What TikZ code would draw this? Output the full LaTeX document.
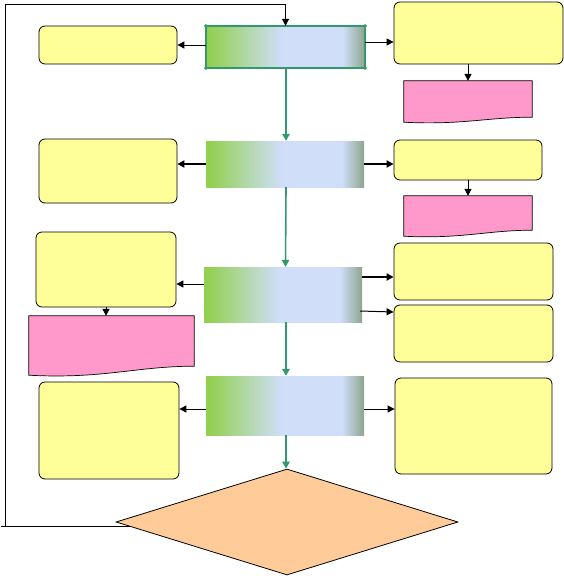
\documentclass[tikz,border=0pt]{standalone}
\usetikzlibrary{arrows.meta,calc,shapes.geometric}
\definecolor{ylw}{RGB}{255,255,153}
\definecolor{pnk}{RGB}{255,153,204}
\definecolor{org}{RGB}{255,204,153}
\definecolor{grn}{RGB}{146,208,80}
\definecolor{lbl}{RGB}{208,222,250}
\definecolor{gry}{RGB}{140,165,140}
\definecolor{ln}{RGB}{50,152,110}
\pgfdeclarehorizontalshading{gbox}{100bp}{color(0bp)=(grn); color(26bp)=(grn); color(49bp)=(lbl); color(68bp)=(lbl); color(75bp)=(gry); color(100bp)=(gry)}
\newcommand{\docwave}[4]{% name, width, rise at right, dip
  \path[pinkdoc] (#1.north west) -- (#1.north east) -- ($(#1.south east)+(0,-#3)$)
    .. controls ($(#1.south east)+(-0.35*#2,-#3)$) and ($(#1.south west)+(0.45*#2,2*#4)$) .. (#1.south west) -- cycle;}
\begin{document}
\begin{tikzpicture}[x=1pt,y=-1pt,
  gb/.style={rectangle,shade,shading=gbox,draw=none,inner sep=0pt},
  yb/.style={rectangle,rounded corners=6pt,fill=ylw,draw=black,line width=0.8pt,inner sep=0pt},
  docnode/.style={rectangle,draw=none,inner sep=0pt},
  pinkdoc/.style={fill=pnk,draw=black,line width=0.7pt},
  blk/.style={draw=black,line width=1pt,-{Triangle[length=7pt,width=7pt]}},
  blkthick/.style={draw=black,line width=1.8pt,-{Triangle[length=7pt,width=7pt]}},
  grnarr/.style={draw=ln,line width=1.6pt,-{Triangle[length=7pt,width=7.5pt]}},
  plain/.style={draw=black,line width=1pt}]
\useasboundingbox (0,0) rectangle (564,576);
% gradient boxes
\node[gb,minimum width=159pt,minimum height=42pt] (b1) at (285.5,47) {};
\node[gb,minimum width=158pt,minimum height=46pt] (b2) at (285,164) {};
\node[gb,minimum width=158pt,minimum height=55pt] (b3) at (283,294.5) {};
\node[gb,minimum width=158pt,minimum height=59pt] (b4) at (285,405.5) {};
\draw[draw=ln,line width=1.6pt] (b1.north west) rectangle (b1.south east);
\foreach \a in {north west,north east,south west,south east}
  \fill[ln] (b1.\a) circle (1.8pt);
% yellow boxes
\node[yb,minimum width=138pt,minimum height=38pt] (l1) at (108,45) {};
\node[yb,minimum width=138pt,minimum height=64pt] (l2) at (108,171) {};
\node[yb,minimum width=140pt,minimum height=75pt] (l3) at (106,269.5) {};
\node[yb,minimum width=140pt,minimum height=97pt] (l4) at (109,430.5) {};
\node[yb,minimum width=169pt,minimum height=62pt] (r1) at (478.5,33) {};
\node[yb,minimum width=148pt,minimum height=40pt] (r2) at (468,160) {};
\node[yb,minimum width=159pt,minimum height=57pt] (r3) at (473.5,271.5) {};
\node[yb,minimum width=159pt,minimum height=57pt] (r4) at (473.5,333.5) {};
\node[yb,minimum width=157pt,minimum height=96pt] (r5) at (473.5,426) {};
% pink documents
\node[docnode,minimum width=128pt,minimum height=41pt] (p1) at (468,101.5) {};
\node[docnode,minimum width=128pt,minimum height=40pt] (p2) at (468,216) {};
\node[docnode,minimum width=165pt,minimum height=59pt] (p3) at (111.5,345.5) {};
\docwave{p1}{128}{5}{1.5}
\docwave{p2}{128}{6}{1.5}
\docwave{p3}{165}{9}{2}
% diamond
\node[diamond,fill=org,draw=black,line width=0.8pt,inner sep=0pt,minimum width=342pt,minimum height=106pt] (d) at (287,522) {};
% connectors
\draw[blk] (b1.west |- l1.east) -- (l1.east);
\draw[blk] (b1.east |- 0,42) -- (r1.west |- 0,42);
\draw[blk] (r1.south -| p1.north) -- (p1.north);
\draw[blkthick] (b2.west) -- (b2.west -| l2.east);
\draw[blkthick] (b2.east) -- (b2.east -| r2.west);
\draw[blk] (r2.south -| p2.north) -- (p2.north);
\draw[blk] (b3.west |- 0,284) -- (l3.east |- 0,284);
\draw[blk] (l3.south) -- (l3.south |- p3.north);
\draw[blkthick] (b3.east |- 0,277) -- (r3.west |- 0,277);
\draw[blk] ($(b3.east)+(-2,16.5)$) -- ($(r4.west)+(0,-21.5)$);
\draw[blk] (b4.west |- 0,409) -- (l4.east |- 0,409);
\draw[blk] (b4.east |- 0,409) -- (r5.west |- 0,409);
\draw[grnarr] (b1.south -| 286,0) -- (b2.north -| 286,0);
\draw[grnarr] (b2.south -| 286,0) -- (b3.north -| 285.5,0);
\draw[grnarr] (b3.south -| 286,0) -- (b4.north -| 286,0);
\draw[grnarr] (b4.south -| 286,0) -- (d.north -| 286,0);
% loop back
\coordinate (dl) at ($(d.west)!0.09!(d.south)$);
\draw[plain] (dl) -- (dl -| 1,0);
\draw[blk] (5,527) -- (5,4) -- (b1.north |- 0,4) -- (b1.north);
\end{tikzpicture}
\end{document}
